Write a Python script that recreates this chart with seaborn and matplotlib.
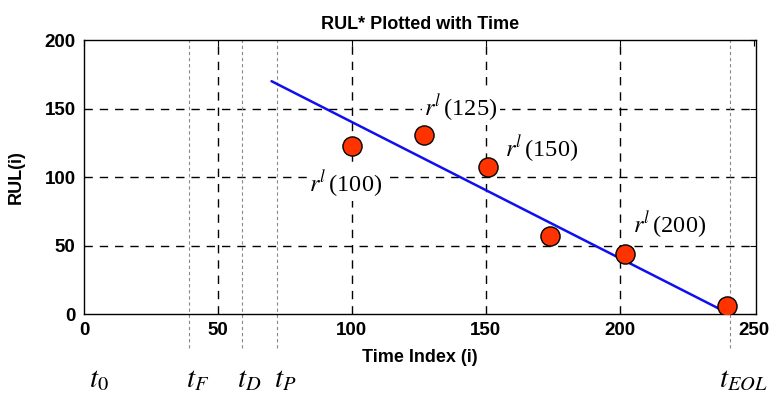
import matplotlib
matplotlib.use("Agg")
import matplotlib.pyplot as plt
import seaborn as sns
import pandas as pd

# data
pt_time = [100, 127, 151, 174, 202, 240]
pt_rul = [123, 131, 107, 57, 44, 6]
line_time = [70, 241]
line_rul = [170, 0]
event_times = [39, 59, 72, 241]
event_labels = [r"$t_0$", r"$t_F$", r"$t_D$", r"$t_P$", r"$t_{EOL}$"]
event_label_x = [2, 38, 57, 71, 237]
ann_text = [r"$r^l\,$(100)", r"$r^l\,$(125)", r"$r^l\,$(150)", r"$r^l\,$(200)"]
ann_x = [84, 127, 157, 205]
ann_y = [95, 151, 121, 65]
xticks = [0, 50, 100, 150, 200, 250]
yticks = [0, 50, 100, 150, 200]

sns.set_style("white")
plt.rcParams["font.family"] = ["Liberation Sans", "DejaVu Sans"]
plt.rcParams["mathtext.fontset"] = "stix"
for k in ["text.color", "axes.labelcolor", "xtick.color", "ytick.color"]:
    plt.rcParams[k] = "black"

fig = plt.figure(figsize=(7.71, 3.97), dpi=100)
ax = fig.add_axes([0.109, 0.209, 0.872, 0.690])

pts = pd.DataFrame({"t": pt_time, "r": pt_rul})
ln = pd.DataFrame({"t": line_time, "r": line_rul})

# grid
for gx in [50, 100, 150, 200]:
    ax.axvline(gx, color="black", lw=1.0, ls=(0, (6, 5)), zorder=1)
for gy in [50, 100, 150]:
    ax.axhline(gy, color="black", lw=1.0, ls=(0, (6, 5)), zorder=1)

# event lines extending below axes
for et in event_times:
    ax.axvline(et, ymin=-0.125, ymax=1.0, color="#8a8a8a", lw=0.8,
               ls=(0, (3, 2.5)), clip_on=False, zorder=1)

sns.lineplot(data=ln, x="t", y="r", ax=ax, color="#1010ee", lw=1.8, zorder=3)
sns.scatterplot(data=pts, x="t", y="r", ax=ax, s=190, color="#ff3300",
                edgecolor="black", linewidth=1.0, zorder=4)

for txt, x, y in zip(ann_text, ann_x, ann_y):
    ax.text(x, y, txt, fontsize=17.5, family="Liberation Serif", color="black",
            ha="left", va="center", zorder=5,
            bbox=dict(facecolor="white", edgecolor="none", pad=1.5))

for txt, x in zip(event_labels, event_label_x):
    ax.text(x, -48, txt, fontsize=21, family="Liberation Serif",
            ha="left", va="center", clip_on=False)

ax.set_xlim(0, 251)
ax.set_ylim(0, 200)
ax.set_xticks(xticks)
ax.set_yticks(yticks)
ax.tick_params(direction="in", length=4, width=0.8, top=True, right=True,
               labelsize=13.5, pad=6)
for lab in ax.get_xticklabels() + ax.get_yticklabels():
    lab.set_fontweight("bold")
for s in ax.spines.values():
    s.set_color("black")
    s.set_linewidth(1.0)

ax.set_xlabel("Time Index (i)", fontsize=13, fontweight="bold", labelpad=7)
ax.set_ylabel("RUL(i)", fontsize=13, fontweight="bold", labelpad=14)
ax.set_title("RUL* Plotted with Time", fontsize=13, fontweight="bold", pad=8)

fig.savefig("out.png", dpi=100)
